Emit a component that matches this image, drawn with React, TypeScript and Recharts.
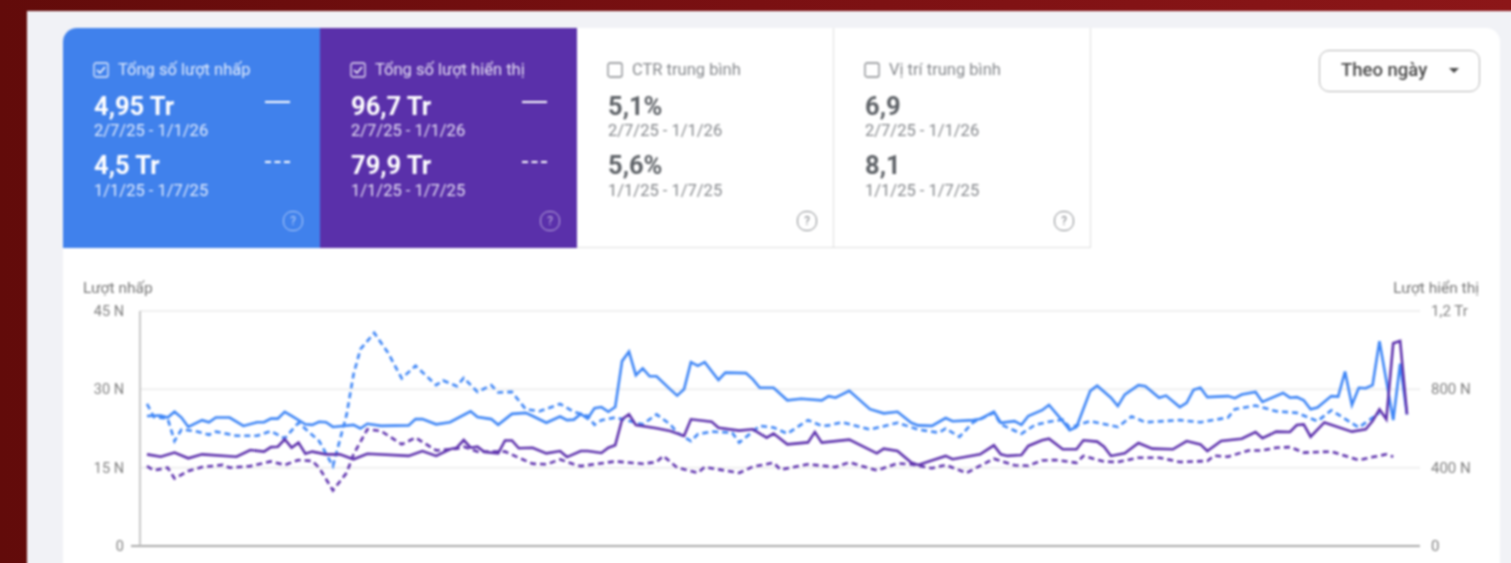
import { LineChart, Line, XAxis, YAxis, CartesianGrid } from 'recharts'

// day index inside the 184 day window
const CLICK_DAYS = [0,2,3,4,5,6,8,9,10,12,14,16,17,18,19,20,21,23,24,25,26,27,30,31,32,34,38,39,40,42,44,47,48,50,51,53,55,56,58,60,61,62,63,64,65,66,67,68,69,70,71,72,73,74,76,77,78,79,80,81,83,84,87,88,89,91,93,95,98,99,100,102,105,107,109,111,112,114,116,117,120,121,123,124,126,127,128,130,131,133,134,135,137,138,140,141,142,144,145,147,148,150,151,152,153,154,157,158,159,161,162,165,166,167,168,169,170,172,173,174,175,176,177,178,179,181,182,183]
const CLICK_VALUES = [24.9,25,24.6,25.7,24.6,22.8,24.1,23.7,24.6,24.6,23,23.7,23.7,24.4,24.4,25.7,24.9,23.3,23.2,23.8,23.7,22.8,23.2,22.5,23.4,23,23.1,24.3,24.3,23.3,23.7,25.8,24.7,24.3,23.2,25.3,25.5,24.9,23.6,24.8,24.1,24.2,25.3,24.4,26.4,26.6,25.7,26.6,35.4,37.2,32.7,34,32.5,32.5,30,28.8,30,35.2,34.5,35.2,31.8,33.2,33.1,31.9,30.3,30.3,27.9,28.2,27.9,28.7,28.4,29.7,26.2,25.4,25.7,23.6,23.1,23,24.5,23.9,24.1,24.3,25.7,23.6,23.9,23.2,24.9,26,27,23.9,22.2,22.8,29.7,30.7,28.4,26.8,29,30.8,30.6,28.4,28.8,26.6,27.4,29.9,30.3,28.5,28.7,28.3,29,29.5,27.6,29.3,28.4,28.5,27.9,26.2,26.5,28.7,28.6,33.4,27,30.3,30.2,30.8,39.2,24.1,34.9,25.2]

const PREV_CLICK_DAYS = [0,1,3,4,5,7,9,10,13,16,18,20,22,25,27,29,30,31,33,35,37,39,42,43,45,46,48,50,51,53,55,57,60,62,64,65,66,68,72,74,76,77,79,80,82,85,86,89,91,93,96,98,99,101,105,109,112,115,116,118,120,123,124,127,129,131,133,134,137,141,143,145,150,153,157,158,161,164,167,170,172,176,179]
const PREV_CLICK_VALUES = [27.2,24.7,24.4,20.1,22.3,22,21.3,21.9,21.1,21.1,22,20.6,23.6,20.1,15.3,25.2,32.9,37.7,40.8,37,32.1,34.5,30.8,31.7,30.6,32.2,29.5,30.8,29.4,29.5,26.2,25.8,27.2,25.7,24.9,23.2,24.1,24.6,23.3,25.2,23.3,21.7,20.1,21.4,21.9,21.7,19.8,23,22.7,21.5,24.1,23,23.1,23.7,22.3,23.6,22.3,21.7,22.5,20.9,23.7,25.5,23.3,21.5,23.2,23.8,24.2,22.7,23.9,22.8,24.8,23.7,24.1,23.7,24.6,26.2,26.9,25.8,25.5,23.9,26,22.7,25.5]

const IMPRESSION_DAYS = [0,2,4,6,8,13,15,17,18,19,20,21,22,23,24,26,28,30,32,38,40,42,44,45,46,47,48,49,51,52,53,54,56,58,60,61,63,64,66,67,68,69,70,71,74,76,78,79,82,83,86,88,90,91,93,96,97,98,102,106,107,109,111,112,116,117,121,123,124,125,127,128,130,131,133,135,136,138,139,140,142,144,146,149,151,153,154,156,159,161,162,164,166,167,168,169,171,175,177,178,179,180,181,182,183]
const IMPRESSION_VALUES = [468,456,477,448,468,456,490,482,505,507,545,502,528,471,482,468,468,443,471,460,485,460,494,502,541,502,507,480,473,539,539,499,502,473,485,454,485,485,475,502,514,647,672,618,601,587,562,647,635,604,589,596,553,574,519,529,582,528,543,473,497,485,426,414,460,443,468,514,468,460,465,511,540,548,494,494,540,533,507,460,473,526,497,494,536,519,485,536,548,582,550,584,582,618,621,558,631,584,596,638,698,647,1035,1047,672]

const PREV_IMPRESSION_DAYS = [0,1,3,4,6,8,11,12,15,18,20,22,24,25,27,29,30,32,34,37,39,42,45,46,48,52,56,58,60,62,63,68,72,74,75,77,80,81,86,88,91,92,96,100,102,106,109,111,114,116,119,123,126,128,130,132,135,136,139,141,144,147,150,154,155,157,160,162,164,166,168,172,176,178,180,181]
const PREV_IMPRESSION_VALUES = [408,386,400,345,383,403,414,400,408,432,414,439,434,400,284,374,468,596,587,519,553,488,497,507,482,482,420,417,442,417,408,432,420,429,460,400,374,403,373,405,425,390,417,403,427,386,422,417,397,414,373,446,412,410,437,439,425,460,431,429,451,451,429,434,461,456,488,488,502,505,477,482,439,454,468,456]

const LEFT_TICKS = [0, 15, 30, 45]
const LEFT_LABELS = ['0', '15 N', '30 N', '45 N']
const RIGHT_TICKS = [0, 400, 800, 1200]
const RIGHT_LABELS = ['0', '400 N', '800 N', '1,2 Tr']

const CURRENT_RANGE = '2/7/25 - 1/1/26'
const PREVIOUS_RANGE = '1/1/25 - 1/7/25'

const METRIC_TITLES = ['Tổng số lượt nhấp', 'Tổng số lượt hiển thị', 'CTR trung bình', 'Vị trí trung bình']
const METRIC_CURRENT = ['4,95 Tr', '96,7 Tr', '5,1%', '6,9']
const METRIC_PREVIOUS = ['4,5 Tr', '79,9 Tr', '5,6%', '8,1']

const BLUE = '#3f86f6'
const PURPLE = '#5e32ad'
const FONT = 'Roboto, sans-serif'

const zip = (days: number[], values: number[]) => days.map((day, i) => ({ day, value: values[i] }))

function LeftTick({ x, y, payload }: any) {
  const label = LEFT_LABELS[LEFT_TICKS.indexOf(payload.value)]
  return (
    <g>
      {payload.value === 0 && <line x1={x - 1} x2={x + 8} y1={y} y2={y} stroke="#aaa" strokeWidth={2} />}
      <text x={x - 8} y={y + 5} textAnchor="end" fontSize={14.5} fill="#808080" fontFamily={FONT}>{label}</text>
    </g>
  )
}

function RightTick({ x, y, payload }: any) {
  const label = RIGHT_LABELS[RIGHT_TICKS.indexOf(payload.value)]
  return (
    <text x={x + 3} y={y + 5} textAnchor="start" fontSize={15} fill="#808080" fontFamily={FONT}>{label}</text>
  )
}

function Checkbox({ active, color }: { active: boolean; color: string }) {
  return (
    <svg width={16} height={16} viewBox="0 0 16 16" style={{ position: 'absolute', left: 30, top: 34 }}>
      <rect x={1} y={1} width={14} height={14} rx={2} fill="none" stroke={color} strokeOpacity={active ? 0.85 : 1} strokeWidth={1.3} />
      {active && <path d="M4 8 L7 11 L12 5" fill="none" stroke={color} strokeWidth={1.5} />}
    </svg>
  )
}

function HelpIcon({ color }: { color: string }) {
  return (
    <div
      style={{
        position: 'absolute', left: 221, top: 183, width: 18, height: 18, borderRadius: 9,
        border: `1.5px solid ${color}`, color, fontSize: 12, lineHeight: '18px', textAlign: 'center',
        boxSizing: 'content-box', marginLeft: -1,
      }}
    >
      ?
    </div>
  )
}

function MetricCard({ index }: { index: number }) {
  const active = index < 2
  const bg = index === 0 ? '#4081ec' : index === 1 ? '#5a30aa' : '#fff'
  const main = active ? '#fff' : '#5f6368'
  const soft = active ? 'rgba(255,255,255,0.85)' : '#85888c'
  const text = (left: number, top: number, size: number, weight: number, color: string, value: string) => (
    <div style={{ position: 'absolute', left, top, fontSize: size, fontWeight: weight, color, whiteSpace: 'nowrap', lineHeight: `${size + 4}px` }}>
      {value}
    </div>
  )
  return (
    <div
      style={{
        position: 'absolute', left: 257 * index, top: 0, width: 257, height: 220, background: bg,
        borderTopLeftRadius: index === 0 ? 14 : 0, boxSizing: 'border-box',
        borderRight: active ? 'none' : '1px solid #dedede', borderBottom: active ? 'none' : '1px solid #dedede',
      }}
    >
      <Checkbox active={active} color={active ? '#fff' : '#85888c'} />
      {text(55, 32, 16.5, 400, soft, METRIC_TITLES[index])}
      {text(31, 64, 25.5, 700, main, METRIC_CURRENT[index])}
      {text(31, 93, 16.5, 400, soft, CURRENT_RANGE)}
      {text(31, 123, 25.5, 700, main, METRIC_PREVIOUS[index])}
      {text(31, 153, 16.5, 400, soft, PREVIOUS_RANGE)}
      {active && <div style={{ position: 'absolute', left: 202, top: 73, width: 25, height: 2, background: '#fff' }} />}
      {active && <div style={{ position: 'absolute', left: 202, top: 133, width: 25, height: 0, borderTop: '2px dashed #fff' }} />}
      <HelpIcon color={active ? 'rgba(255,255,255,0.6)' : '#85888c'} />
    </div>
  )
}

export default function App() {
  return (
    <div
      style={{
        position: 'absolute', left: 0, top: 0, width: 1511, height: 563, overflow: 'hidden',
        background: 'linear-gradient(90deg, #620b0a 0%, #7a1012 50%, #8c1618 100%)', fontFamily: FONT,
      }}
    >
      <div style={{ position: 'absolute', left: 27, top: 11, width: 1510, height: 590, background: '#f1f2f6', filter: 'blur(0.8px)' }}>
        <div style={{ position: 'absolute', left: 36, top: 17, width: 1437, height: 580, background: '#fff', borderRadius: '14px 14px 0 0' }}>
          {[0, 1, 2, 3].map((i) => <MetricCard key={i} index={i} />)}

          <div
            style={{
              position: 'absolute', left: 1256, top: 22, width: 161, height: 42, boxSizing: 'border-box',
              border: '1.5px solid #b5b5b5', borderRadius: 10, color: '#4a4a4a', fontSize: 18.5, fontWeight: 500,
              lineHeight: '39px', paddingLeft: 21,
            }}
          >
            Theo ngày
            <div
              style={{
                position: 'absolute', left: 129, top: 17, width: 0, height: 0,
                borderLeft: '5px solid transparent', borderRight: '5px solid transparent', borderTop: '5px solid #4a4a4a',
              }}
            />
          </div>

          <div style={{ position: 'absolute', left: 20, top: 251, fontSize: 15.5, color: '#777' }}>Lượt nhấp</div>
          <div style={{ position: 'absolute', right: 21, top: 251, fontSize: 15.5, color: '#777' }}>Lượt hiển thị</div>

          <div style={{ position: 'absolute', left: 0, top: 252 }}>
            <LineChart width={1437} height={288} margin={{ top: 31, right: 0, bottom: 21, left: 0 }}>
              <CartesianGrid horizontal vertical={false} stroke="#efefef" strokeWidth={2} yAxisId="clicks" />
              <XAxis
                dataKey="day"
                type="number"
                domain={[0, 183]}
                padding={{ left: 7, right: 13 }}
                tick={false}
                tickLine={false}
                height={1}
                axisLine={{ stroke: '#aaa', strokeWidth: 2 }}
              />
              <YAxis
                yAxisId="clicks"
                width={77}
                domain={[0, 45]}
                ticks={LEFT_TICKS}
                tick={<LeftTick />}
                tickLine={false}
                axisLine={{ stroke: '#c8c8c8', strokeWidth: 2 }}
              />
              <YAxis
                yAxisId="impressions"
                orientation="right"
                width={80}
                domain={[0, 1200]}
                ticks={RIGHT_TICKS}
                tick={<RightTick />}
                tickLine={false}
                axisLine={false}
              />
              <Line yAxisId="clicks" data={zip(PREV_CLICK_DAYS, PREV_CLICK_VALUES)} dataKey="value" type="linear" stroke={BLUE} strokeWidth={2.6} strokeDasharray="6 4" dot={false} isAnimationActive={false} />
              <Line yAxisId="impressions" data={zip(PREV_IMPRESSION_DAYS, PREV_IMPRESSION_VALUES)} dataKey="value" type="linear" stroke={PURPLE} strokeWidth={2.6} strokeDasharray="6 4" dot={false} isAnimationActive={false} />
              <Line yAxisId="clicks" data={zip(CLICK_DAYS, CLICK_VALUES)} dataKey="value" type="linear" stroke={BLUE} strokeWidth={2.6} dot={false} isAnimationActive={false} />
              <Line yAxisId="impressions" data={zip(IMPRESSION_DAYS, IMPRESSION_VALUES)} dataKey="value" type="linear" stroke={PURPLE} strokeWidth={2.6} dot={false} isAnimationActive={false} />
            </LineChart>
          </div>
        </div>
      </div>
    </div>
  )
}
